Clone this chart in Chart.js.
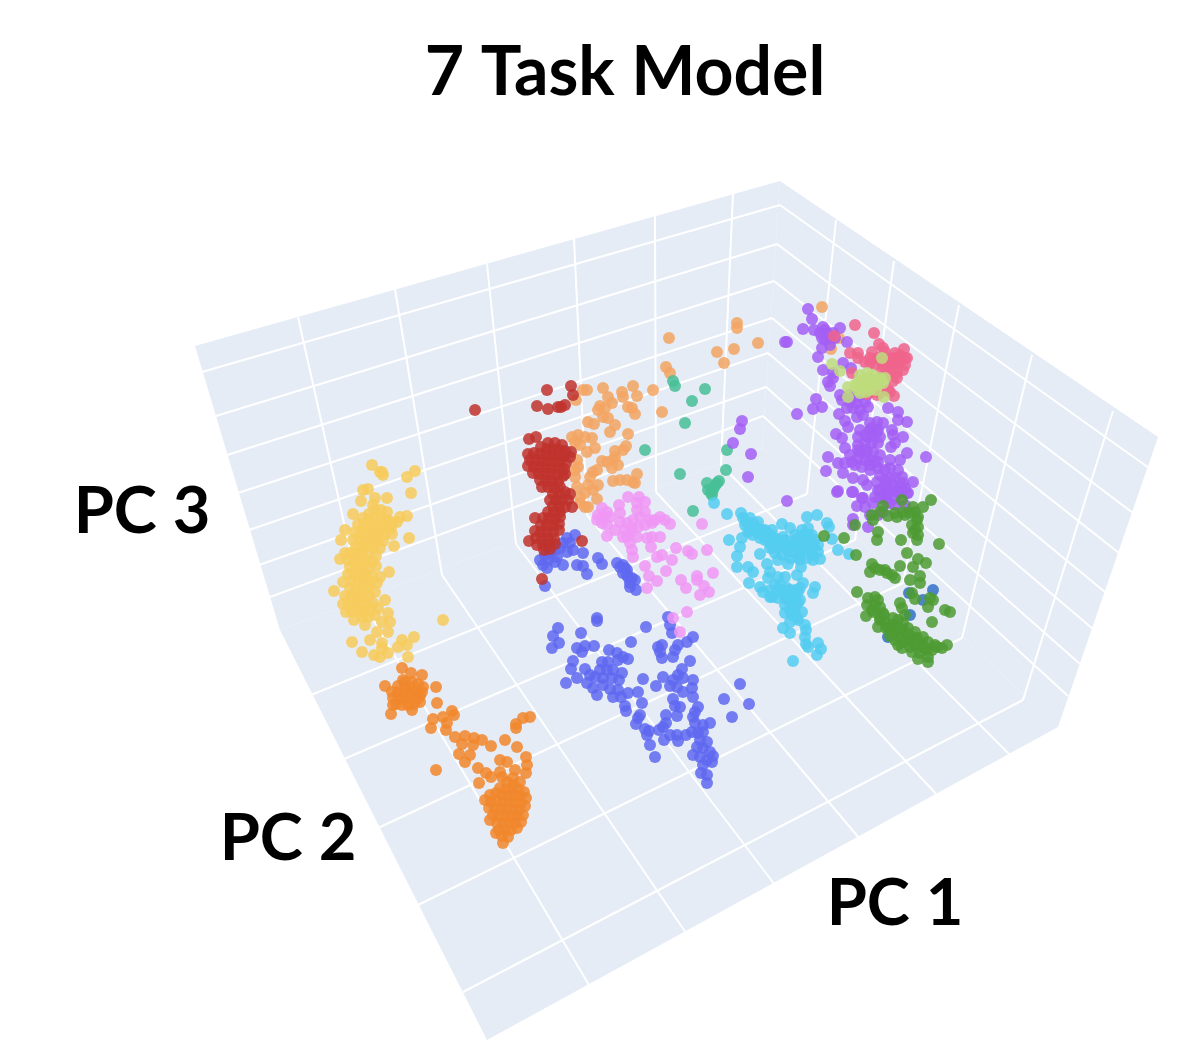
<!DOCTYPE html>
<html lang="en">
<head>
  <meta charset="UTF-8">
  <title>7 Task Model</title>
  <script src="https://cdn.jsdelivr.net/npm/chart.js"></script>
  <style>
    html, body { margin: 0; padding: 0; background: #fff; }
    canvas { display: block; }
  </style>
</head>
<body>
<canvas id="chart" width="1200" height="1057"></canvas>

<script>
const titleText = '7 Task Model';
const axisNames = ['PC 3', 'PC 2', 'PC 1'];

const leftWall = [[195,346],[780,181],[762,448],[280,630],[195,346]];
const rightWall = [[780,181],[1158,437],[1058,727],[762,448],[780,181]];
const floorPane = [[280,630],[762,448],[1058,727],[487,1040],[280,630]];

const leftWallUprights = [[298,317,361,599],[395,289,442,575],[487,264,516,544],[574,239,587,515],[655,216,656,492],[733,193,721,465]];
const leftWallRows = [[202,372,780,205],[216,416,777,244],[227,455,774,281],[238,493,772,318],[249,530,768,353],[259,565,766,387],[270,597,763,416]];
const rightWallUprights = [[836,220,807,494],[894,261,855,540],[959,305,903,583],[1032,355,962,638],[1113,411,1023,700]];
const rightWallRows = [[780,205,1149,468],[777,244,1133,513],[774,281,1119,553],[772,318,1105,592],[768,353,1093,629],[766,387,1080,664],[763,416,1068,696]];
const floorRows = [[361,599,589,985],[442,575,686,933],[516,544,775,885],[587,515,859,838],[656,492,938,796],[721,465,1012,757]];
const floorCols = [[311,695,807,494],[344,759,855,540],[378,828,903,583],[418,905,962,638],[463,992,1023,700]];

const yellowPts = [[372,465],[380,472],[383,475],[382,472],[415,471],[407,477],[411,493],[368,489],[363,490],[361,501],[387,498],[375,498],[373,505],[353,514],[400,517],[407,516],[397,522],[409,538],[392,534],[394,546],[345,530],[341,540],[340,559],[345,553],[389,572],[380,577],[377,583],[334,591],[343,582],[385,600],[388,613],[390,622],[382,622],[354,620],[346,612],[443,620],[414,637],[402,640],[398,647],[407,645],[408,657],[352,642],[362,652],[374,655],[380,657],[388,653],[382,643],[388,632],[377,632],[370,640],[365,625],[368,617],[378,608],[382,648],
  [375,510],[381,510],[387,512],[369,514],[363,518],[369,520],[375,518],[381,518],[387,520],[392,522],[358,524],[364,526],[370,526],[376,526],[382,526],[388,527],[355,532],[361,532],[367,533],[373,533],[379,533],[385,534],[391,528],[353,540],[359,540],[365,540],[371,540],[377,540],[383,541],[356,547],[362,547],[368,546],[374,547],[380,548],[350,553],[356,553],[362,554],[368,553],[376,556],[348,560],[354,560],[360,560],[366,561],[372,562],[350,567],[356,567],[362,568],[368,569],[376,566],[348,574],[354,574],[360,575],[366,575],[372,576],[352,581],[358,581],[364,582],[370,582],[350,588],[356,590],[362,590],[368,588],[345,596],[351,596],[357,597],[363,597],[369,595],[375,592],[343,604],[349,604],[355,604],[361,604],[367,604],[373,603],[352,611],[358,611],[364,612],[370,611],[362,617],[375,615]];

const orangePts = [[402,668],[411,673],[422,675],[385,686],[423,687],[403,680],[391,714],[412,710],[420,702],[393,705],[436,687],[437,703],[452,711],[454,715],[443,717],[433,719],[431,728],[446,730],[447,723],[455,737],[465,736],[462,744],[474,738],[482,740],[491,746],[505,740],[517,747],[473,745],[470,755],[459,754],[465,762],[436,770],[478,768],[486,773],[491,777],[500,760],[507,762],[500,772],[502,777],[515,770],[526,757],[527,765],[526,773],[479,783],[516,724],[516,728],[523,718],[530,717],
  [405,682],[412,682],[398,686],[405,688],[412,688],[418,684],[392,692],[398,692],[404,693],[410,693],[416,692],[422,692],[393,698],[399,699],[405,699],[411,699],[417,699],[396,704],[402,705],[408,705],[414,704],[420,696],
  [513,778],[520,782],[507,782],[513,785],[500,788],[506,789],[512,790],[518,789],[524,792],[490,795],[496,793],[502,795],[508,796],[514,796],[520,796],[526,798],[485,800],[491,802],[497,801],[503,802],[509,802],[515,803],[521,803],[489,808],[495,809],[501,809],[507,809],[513,810],[519,810],[525,806],[493,815],[499,816],[505,816],[511,816],[517,816],[523,815],[490,820],[497,823],[503,823],[509,823],[515,823],[521,822],[499,830],[505,830],[511,830],[517,828],[496,833],[502,836],[508,837],[503,843]];

const redPts = [[475,410],[547,390],[571,386],[573,395],[537,406],[548,409],[558,407],[565,405],[529,439],[536,437],[529,541],[535,518],[542,579],[582,541],[561,407],
  [548,443],[555,443],[562,445],[541,447],[547,449],[553,449],[559,450],[565,451],[571,452],[528,454],[534,453],[540,454],[546,455],[552,455],[558,456],[564,456],[570,457],[530,460],[536,460],[542,461],[548,461],[554,461],[560,462],[566,463],[528,466],[534,467],[540,467],[546,467],[552,468],[558,468],[564,469],[533,473],[539,474],[545,474],[551,474],[557,475],[563,476],[540,480],[546,481],[552,481],[558,482],[565,474],[542,487],[548,487],[554,488],[560,487],[553,494],[559,494],[565,492],[570,494],[550,500],[556,500],[562,500],[568,500],[572,507],[553,506],[559,506],[565,507],[548,512],[554,512],[560,512],[543,518],[549,518],[555,519],[560,517],[541,525],[547,525],[553,525],[559,524],[535,531],[541,532],[547,532],[553,532],[559,530],[536,538],[542,539],[548,539],[554,539],[537,545],[543,545],[549,545],[555,544],[544,550],[550,549]];

const peachPts = [[669,338],[737,323],[737,328],[717,352],[734,349],[758,343],[724,363],[666,367],[670,373],[653,390],[662,412],[583,390],[587,390],[576,400],[603,388],[608,397],[612,403],[622,392],[623,397],[633,386],[637,396],[628,407],[635,414],[632,408],[600,406],[598,410],[605,408],[603,417],[608,418],[615,425],[610,432],[588,422],[594,424],[628,434],[572,437],[578,435],[585,437],[592,438],[575,442],[595,448],[587,452],[580,445],[626,446],[623,450],[615,451],[602,461],[607,462],[613,460],[618,465],[612,468],[615,457],[577,460],[578,467],[575,477],[577,487],[593,472],[597,470],[590,477],[588,485],[598,485],[593,490],[585,493],[580,497],[580,503],[585,507],[588,507],[597,499],[613,481],[620,480],[627,480],[633,482],[637,474],[635,483],[575,470],[822,307],[831,349],[839,338]];

const tealPts = [[673,381],[675,386],[705,389],[692,401],[685,423],[645,450],[727,450],[726,470],[680,474],[707,483],[719,481],[715,486],[708,490],[712,495],[713,490],[693,511],[711,493],[717,483]];

const pinkPts = [[628,497],[639,497],[637,503],[645,502],[619,505],[602,508],[607,512],[598,515],[603,517],[610,517],[597,520],[602,523],[607,525],[620,513],[637,510],[645,512],[660,517],[665,520],[670,524],[655,520],[650,520],[640,517],[633,520],[627,523],[620,522],[615,530],[607,536],[625,530],[632,528],[638,527],[645,525],[652,523],[660,537],[652,537],[647,538],[651,547],[627,537],[630,543],[632,550],[633,557],[702,524],[676,548],[688,551],[692,554],[707,550],[662,555],[657,557],[672,560],[645,566],[666,571],[649,576],[657,581],[647,588],[681,580],[686,588],[697,576],[697,580],[704,586],[709,592],[700,595],[713,573],[687,612],[673,618],[630,533],[623,537],[637,537],[680,632]];

const bluePts = [[575,535],[567,538],[563,543],[570,543],[560,548],[567,552],[555,550],[550,553],[557,557],[545,555],[540,560],[548,560],[555,562],[543,565],[547,568],[545,586],[583,553],[563,565],[577,565],[583,566],[587,574],[598,558],[602,564],[617,563],[623,565],[627,570],[623,573],[628,577],[630,583],[635,580],[636,590],[630,587],[625,568],[620,567],[627,575],[632,578],[573,550],[597,618],
  [558,628],[597,621],[553,636],[559,643],[552,648],[581,633],[646,627],[668,617],[670,625],[672,633],[631,642],[577,648],[582,652],[585,646],[594,646],[609,650],[617,653],[618,660],[623,657],[628,659],[573,661],[571,669],[566,683],[577,678],[585,669],[587,683],[593,688],[597,695],[602,662],[608,662],[600,670],[607,670],[613,670],[622,673],[595,677],[603,678],[612,678],[619,680],[590,675],[603,685],[610,689],[618,690],[613,697],[621,697],[628,693],[638,692],[643,679],[625,706],[626,711],[642,703],[640,715],[638,718],[636,724],[645,729],[649,731],[647,735],[650,745],[655,757],[658,647],[662,645],[660,652],[662,658],[673,657],[675,650],[678,645],[687,642],[693,637],[690,661],[682,669],[663,677],[656,686],[673,680],[678,675],[683,678],[693,680],[670,686],[677,687],[683,692],[692,688],[693,697],[673,699],[675,706],[680,707],[677,716],[666,715],[666,723],[663,727],[659,730],[670,735],[677,735],[664,740],[678,741],[686,735],[698,707],[695,712],[693,717],[695,723],[703,725],[710,723],[692,732],[698,733],[703,732],[700,740],[707,742],[697,747],[703,748],[710,752],[713,756],[693,755],[700,757],[707,760],[703,765],[712,762],[701,773],[707,775],[707,783],[740,684],[724,699],[749,704],[732,717]];

const cyanPts = [[727,514],[741,513],[743,518],[750,518],[753,523],[757,528],[748,532],[742,538],[753,535],[762,530],[767,535],[775,538],[782,524],[790,528],[807,517],[817,515],[827,523],[829,527],[729,540],[740,547],[760,554],[737,556],[737,567],[748,567],[753,572],[749,583],[767,564],[770,572],[778,577],[785,577],[768,578],[760,587],[763,592],[770,590],[772,597],[778,598],[787,588],[783,593],[800,588],[803,583],[815,587],[813,593],[797,575],[801,567],[795,597],[785,605],[792,605],[798,603],[785,613],[792,615],[802,612],[798,620],[790,622],[783,628],[790,633],[806,630],[805,637],[806,644],[818,643],[821,649],[817,655],[808,647],[793,661],[832,539],[838,550],[849,554],[773,548],[780,545],[787,550],[792,545],[800,543],[807,540],[813,547],[818,552],[820,559],[798,558],[788,564],[775,553],[802,530],[808,528],[800,537],[808,535],[783,537],[770,543],[760,538],[792,552],[815,540],[714,503],[745,525],[750,530],[758,522],[765,540],[772,530],[785,545],[778,540],[795,540],[790,558],[805,550],[800,552],[812,555],[790,598],[780,585],[795,612],[788,600],[798,592],
  [746,522],[752,528],[758,533],[765,530],[770,535],[778,545],[785,540],[795,535],[803,535],[812,535],[818,545],[782,555],[790,545],[797,547],[805,545],[812,550],[800,560],[807,558],[813,560],[770,548],[778,560],[775,585],[782,590],[790,590],[795,590],[785,597],[778,590],[770,597],[790,610],[795,605],[800,600],[797,618],[805,625]];

const steelPts = [[933,590],[923,600],[909,593],[910,615],[888,637]];

const greenPts = [[931,500],[902,500],[913,507],[923,507],[883,506],[872,515],[873,520],[855,525],[895,513],[903,512],[910,513],[918,517],[918,527],[913,533],[917,540],[878,532],[877,540],[901,540],[824,536],[844,538],[856,555],[907,553],[939,544],[918,559],[926,563],[913,567],[900,566],[872,564],[870,572],[880,570],[887,573],[895,578],[920,576],[910,580],[920,583],[857,592],[875,597],[867,605],[875,605],[866,616],[883,613],[900,603],[902,608],[928,607],[912,593],[933,600],[945,610],[950,612],[932,622],[878,627],[893,618],[897,627],[890,630],[903,623],[908,628],[900,637],[910,647],[917,638],[923,637],[920,647],[927,650],[937,647],[947,645],[918,659],[928,662],[915,599],[930,598],[888,627],[902,630],[912,637],[928,642],[920,653],[885,622],[892,625],[895,633],[903,642],[908,640],[915,645],[922,643],[928,657],[932,650],[942,648],
  [880,620],[886,628],[893,630],[898,620],[905,632],[895,640],[902,648],[910,640],[915,632],[905,615],[884,615],[872,610],[878,600],[868,598],[880,607],[873,612],[880,618],[890,636],[898,645],[912,652],[925,648],[935,645],[875,568],[885,570],[892,575],[880,512],[888,516],[897,517],[905,515],[915,512],[917,520],[915,530],[912,525],[918,535]];

const purplePts = [[808,309],[812,319],[803,329],[814,330],[787,342],[785,342],[823,327],[840,328],[820,333],[827,333],[833,333],[822,338],[825,340],[847,342],[822,348],[818,357],[823,370],[833,373],[843,363],[851,368],[828,382],[830,386],[833,378],[840,395],[842,400],[850,395],[858,397],[867,395],[816,399],[813,409],[822,407],[797,414],[839,414],[847,408],[853,408],[860,410],[868,407],[857,417],[863,415],[845,421],[848,427],[888,408],[898,412],[898,420],[907,422],[870,423],[877,422],[883,423],[870,430],[877,432],[836,434],[842,438],[845,448],[892,430],[893,435],[903,437],[895,443],[891,447],[858,445],[865,443],[872,443],[878,443],[860,452],[867,452],[873,452],[880,455],[828,457],[838,463],[845,463],[852,462],[858,458],[865,460],[826,471],[843,473],[853,478],[870,470],[878,468],[890,460],[890,468],[907,453],[900,460],[926,457],[863,480],[877,482],[867,485],[887,487],[893,485],[902,477],[913,482],[838,491],[853,492],[787,501],[862,498],[857,506],[865,507],[873,503],[887,495],[897,492],[907,493],[887,502],[853,519],[853,525],
  [837,492],[852,492],[863,498],[868,527],[878,515],[887,493],[900,493],[908,493],[890,503],[870,515],[883,512],[895,505],[905,505],[895,498],[880,498],[878,490],[885,480],[895,478],[905,488],[870,460],[875,462],[885,470],[880,475],[872,435],[880,437],[868,437],[858,437],[742,421],[740,429],[733,443],[751,454],[748,477],
  [860,430],[865,435],[872,428],[878,430],[865,450],[858,450],[850,455],[855,465],[862,467],[870,465],[878,462],[885,485],[893,490],[900,487],[890,478],[898,470],[903,483],[880,490],[875,497],[885,497],[825,330],[830,338],[835,338],[830,345],[850,402],[857,403],[865,402]];

const rosePts = [[855,325],[874,333],[879,344],[883,348],[904,349],[850,353],[858,353],[872,352],[834,336],[865,362],[870,363],[875,365],[882,362],[888,363],[895,353],[900,355],[905,358],[893,360],[898,363],[903,370],[892,370],[885,368],[852,373],[893,381],[897,373],[890,392],[894,396],[880,393],[877,395],[867,394],[887,375],[907,358],
  [885,352],[890,358],[895,358],[900,362],[905,365],[890,365],[882,370],[897,378],[870,358],[878,358],[858,358],[888,390],[872,392]];

const limePts = [[832,364],[840,371],[882,358],[848,387],[848,397],[858,390],[884,397],[860,375],[867,373],[873,375],[858,382],[865,382],[872,383],[878,385],[885,378],[883,383],[870,390],[863,387],[875,380],
  [862,380],[868,378],[870,385],[876,390],[866,392],[880,378],[855,385],[860,393]];

function toXY(pts) {
  return pts.map(p => ({ x: p[0], y: p[1] }));
}

function segmentsToXY(segs) {
  const out = [];
  segs.forEach(s => {
    out.push({ x: s[0], y: s[1] }, { x: s[2], y: s[3] }, { x: null, y: null });
  });
  return out;
}

function paneSet(pts) {
  return {
    data: toXY(pts), showLine: true, fill: 'shape', backgroundColor: '#e5ecf6',
    borderWidth: 0, pointRadius: 0, order: 100
  };
}

// lower order is painted later
function clusterSet(pts, color, order) {
  return {
    data: toXY(pts), backgroundColor: color, borderWidth: 0,
    pointRadius: 6, pointHoverRadius: 6, order: order
  };
}

const gridSegments = [].concat(leftWallUprights, leftWallRows, rightWallUprights, rightWallRows, floorRows, floorCols);

const textPlugin = {
  id: 'chartText',
  afterDraw(chart) {
    const ctx = chart.ctx;
    ctx.save();
    ctx.fillStyle = '#000';
    ctx.textBaseline = 'alphabetic';
    ctx.textAlign = 'center';
    ctx.font = '700 68px Lato, sans-serif';
    ctx.fillText(titleText, 625, 95);
    ctx.font = '700 65px Lato, sans-serif';
    ctx.fillText(axisNames[0], 142, 533);
    ctx.fillText(axisNames[1], 288, 860);
    ctx.fillText(axisNames[2], 895, 925);
    ctx.restore();
  }
};

new Chart(document.getElementById('chart'), {
  type: 'scatter',
  data: {
    datasets: [
      paneSet(leftWall),
      paneSet(rightWall),
      paneSet(floorPane),
      {
        data: segmentsToXY(gridSegments), showLine: true, spanGaps: false,
        borderColor: '#ffffff', borderWidth: 2, pointRadius: 0, order: 90
      },
      clusterSet(yellowPts, 'rgba(247,203,92,0.85)', 12),
      clusterSet(orangePts, 'rgba(241,135,45,0.85)', 11),
      clusterSet(peachPts, 'rgba(243,165,98,0.85)', 10),
      clusterSet(tealPts, 'rgba(70,192,150,0.85)', 9),
      clusterSet(cyanPts, 'rgba(84,205,240,0.85)', 8),
      clusterSet(bluePts, 'rgba(95,105,240,0.85)', 7),
      clusterSet(pinkPts, 'rgba(240,150,245,0.85)', 6),
      clusterSet(redPts, 'rgba(192,50,45,0.85)', 5),
      clusterSet(purplePts, 'rgba(163,95,245,0.85)', 4),
      clusterSet(steelPts, 'rgba(60,120,200,0.9)', 3),
      clusterSet(greenPts, 'rgba(78,155,50,0.85)', 2),
      clusterSet(rosePts, 'rgba(240,100,140,0.85)', 1),
      clusterSet(limePts, 'rgba(190,220,125,0.85)', 0)
    ]
  },
  plugins: [textPlugin],
  options: {
    responsive: false,
    animation: false,
    layout: { padding: 0, autoPadding: false },
    plugins: { legend: { display: false }, tooltip: { enabled: false } },
    scales: {
      x: { type: 'linear', min: 0, max: 1200, display: false },
      y: { type: 'linear', min: 0, max: 1057, reverse: true, display: false }
    }
  }
});
</script>
</body>
</html>
